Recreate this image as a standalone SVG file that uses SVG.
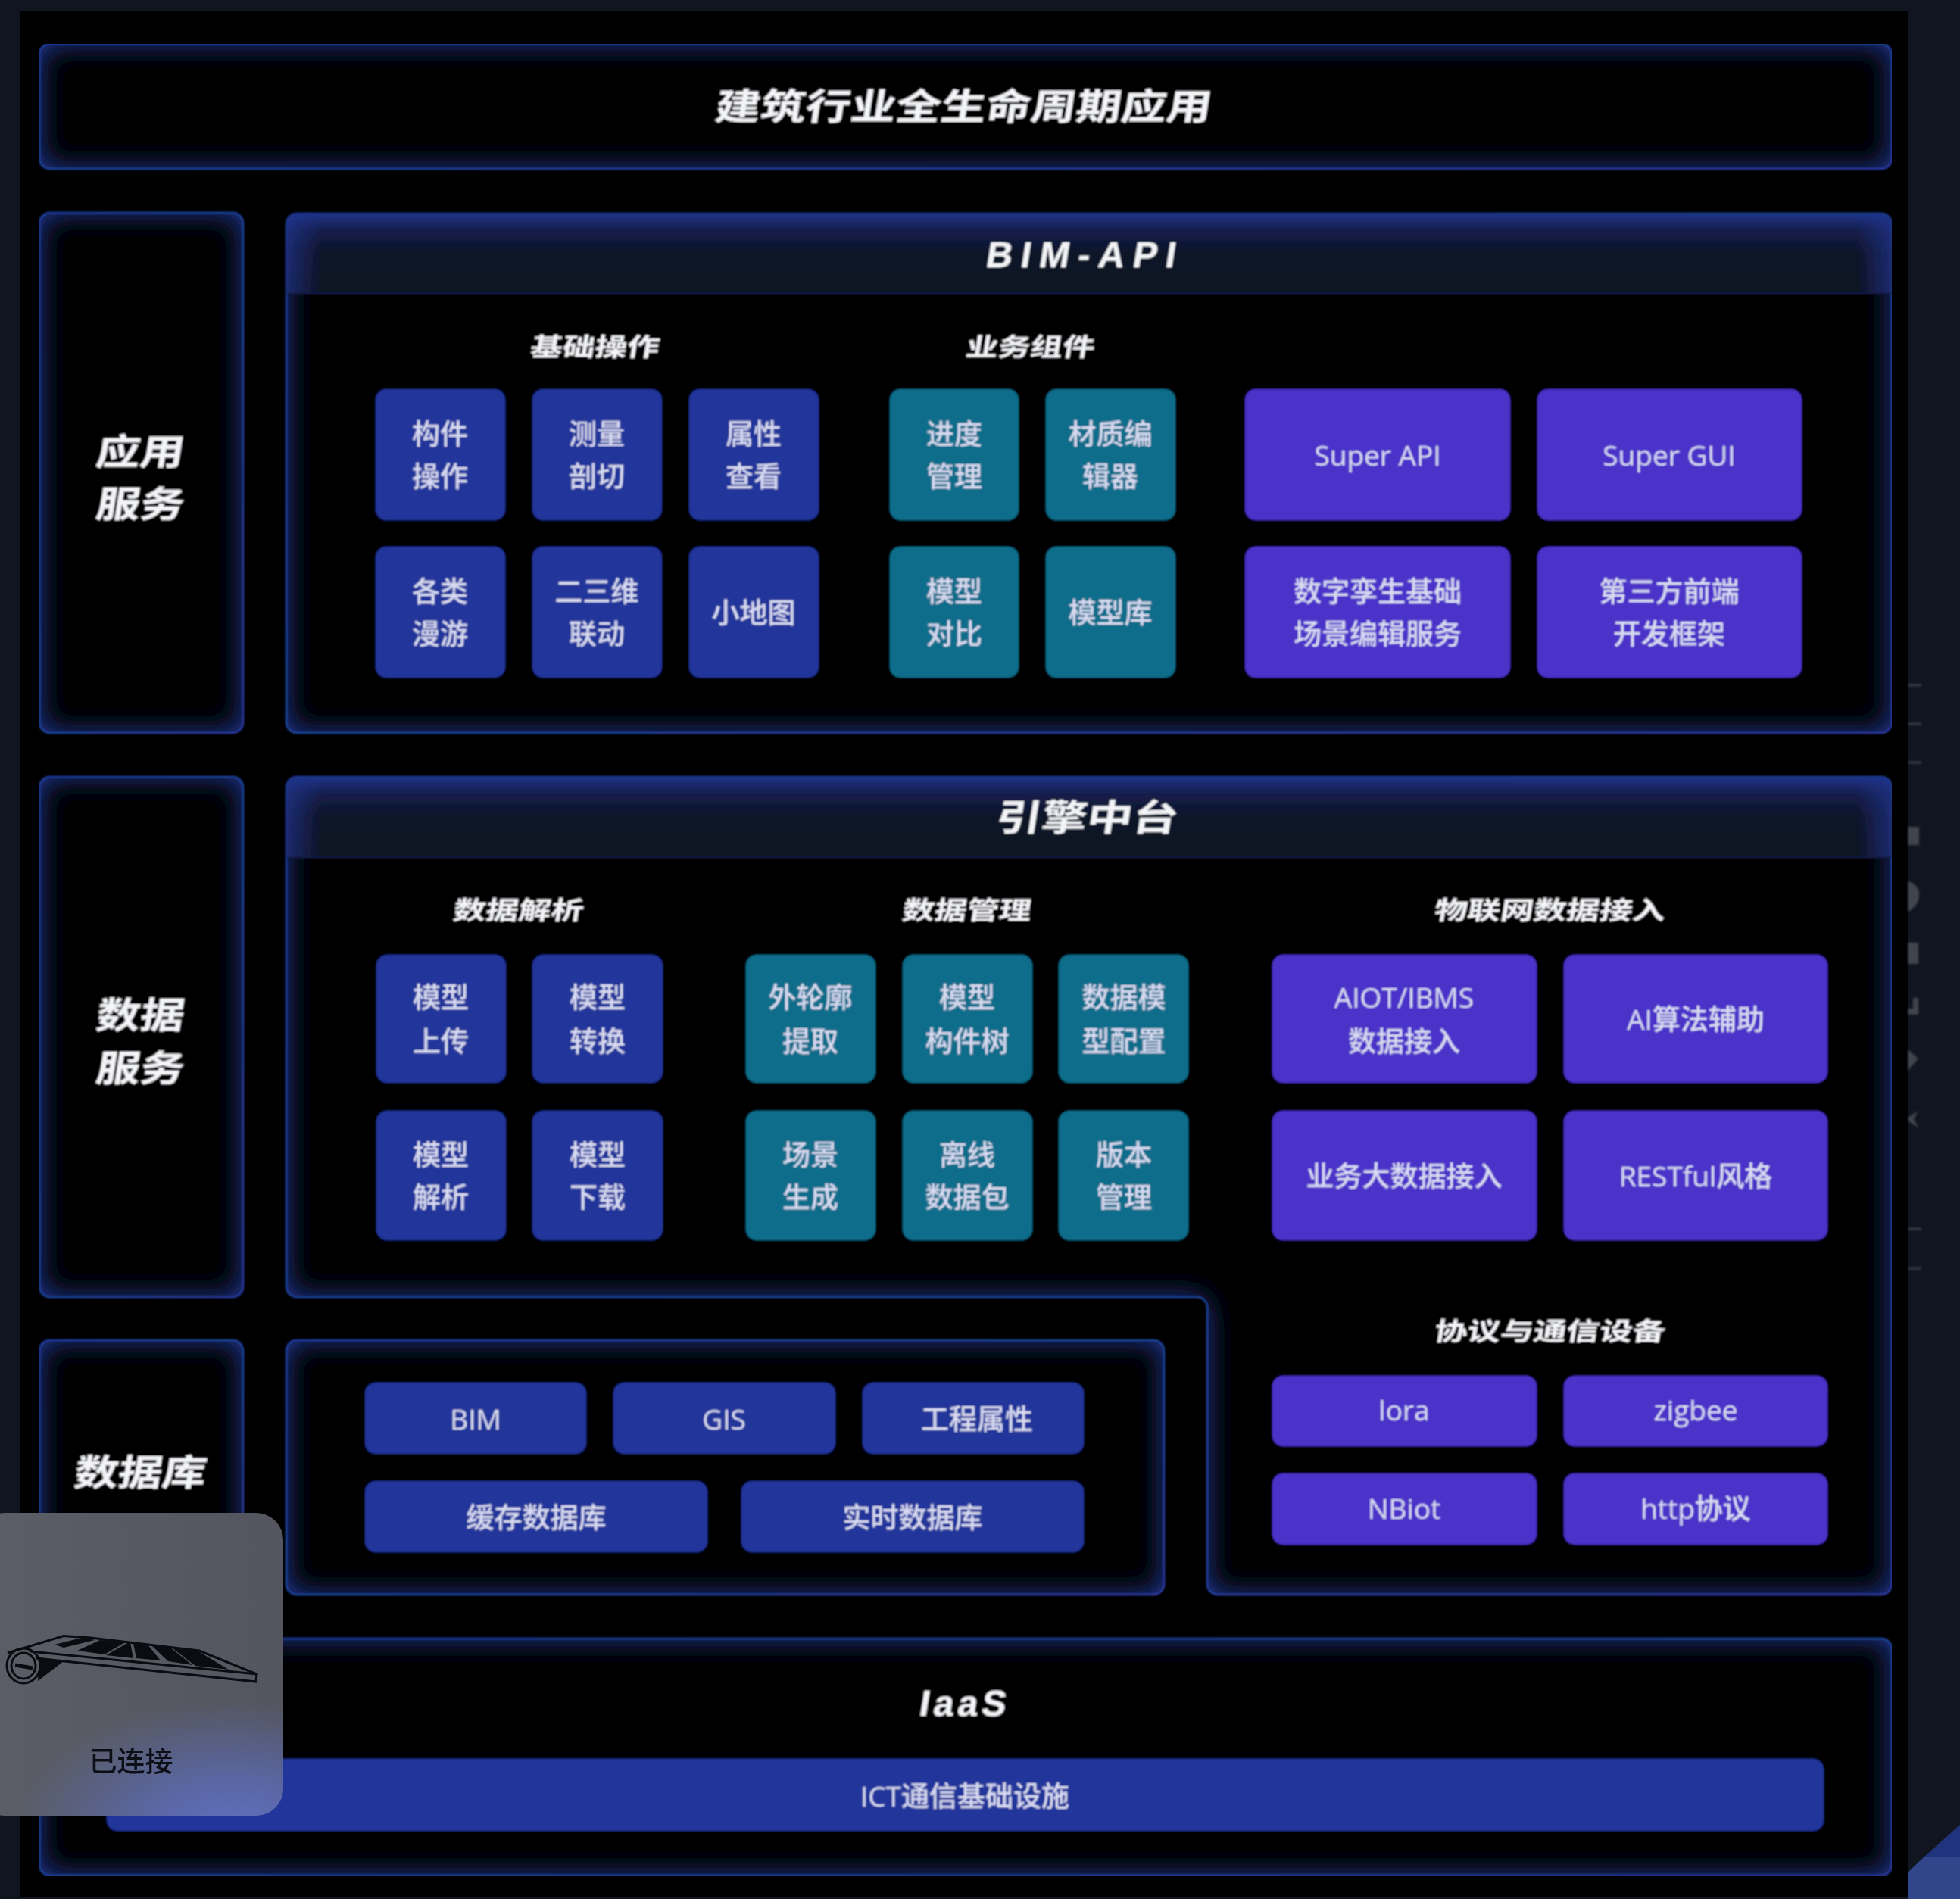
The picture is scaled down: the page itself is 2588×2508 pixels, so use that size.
<svg xmlns="http://www.w3.org/2000/svg" width="2588" height="2508" viewBox="0 0 2588 2508">
<style>
text{font-family:"Open Sans","Noto Sans CJK SC",sans-serif;text-anchor:middle;dominant-baseline:central}
.b{fill:#20369a}.t{fill:#106d8a}.p{fill:#4b32c9}
.l{font-size:37px;font-weight:500;fill:#d9dcf2;transform:translateY(-1px)}
.h{font-weight:700;fill:#f4f5f8;transform-box:fill-box;transform-origin:center;transform:translateY(-1px) skewX(-9deg)}
.s{font-size:33px}.m{font-size:48px}
.lat{font-family:"Liberation Sans",sans-serif}
.panel{fill:#000;stroke:url(#edge);stroke-width:2.500;filter:url(#glow)}
.tick{stroke:#4a4e58;stroke-width:2}
.ico{fill:#4a4d55;opacity:.85}
.k{fill:none;stroke:#0b0c12;stroke-width:3}
</style>
<defs>
<linearGradient id="edge" x1="0" y1="0" x2="1" y2="1"><stop offset="0" stop-color="#17398f"/><stop offset=".5" stop-color="#154a8c"/><stop offset="1" stop-color="#33309c"/></linearGradient>
<linearGradient id="head" x1="0" y1="0" x2="0" y2="1"><stop offset="0" stop-color="#20338a"/><stop offset=".22" stop-color="#141e4a"/><stop offset=".5" stop-color="#0e1428"/><stop offset="1" stop-color="#0d1220"/></linearGradient>
<linearGradient id="sides" x1="0" y1="0" x2="1" y2="0"><stop offset="0" stop-color="#20338a" stop-opacity=".75"/><stop offset=".022" stop-color="#20338a" stop-opacity="0"/><stop offset=".978" stop-color="#20338a" stop-opacity="0"/><stop offset="1" stop-color="#20338a" stop-opacity=".75"/></linearGradient>
<linearGradient id="pop" x1="0" y1="0" x2="1" y2="0"><stop offset="0" stop-color="#5b5e67"/><stop offset="1" stop-color="#54555e"/></linearGradient>
<radialGradient id="popb" gradientUnits="userSpaceOnUse" cx="310" cy="2420" r="290" gradientTransform="translate(0 968) scale(1 .6)"><stop offset="0" stop-color="#5f70c0"/><stop offset=".35" stop-color="#5b6bb5" stop-opacity=".85"/><stop offset="1" stop-color="#5b6bb5" stop-opacity="0"/></radialGradient>
<filter id="glow" x="-30%" y="-40%" width="160%" height="180%" color-interpolation-filters="sRGB">
<feComponentTransfer in="SourceAlpha" result="inv"><feFuncA type="table" tableValues="1 0"/></feComponentTransfer>
<feGaussianBlur in="inv" stdDeviation="19" result="bl"/>
<feFlood flood-color="#2440a6"/>
<feComposite operator="in" in2="bl"/>
<feComposite operator="in" in2="SourceAlpha" result="g"/>
<feMerge><feMergeNode in="SourceGraphic"/><feMergeNode in="g"/></feMerge>
</filter>
<filter id="soft" x="0" y="0" width="100%" height="100%"><feGaussianBlur stdDeviation="0.9"/></filter>
<filter id="soft2" x="-5%" y="-5%" width="110%" height="110%"><feGaussianBlur stdDeviation="1.500"/></filter>
</defs>
<rect width="2588" height="2508" fill="#11151f"/>
<rect x="27" y="14" width="2492" height="2492" fill="#000"/>
<g id="corner"><polygon points="2541,2452 2588,2410 2588,2452" fill="#20347e"/><polygon points="2519,2473 2541,2452 2588,2452 2588,2508 2519,2508" fill="#30458a"/></g>
<g id="sidebar" filter="url(#soft2)">
<line class="tick" x1="2519" y1="905" x2="2537" y2="905"/><line class="tick" x1="2519" y1="956" x2="2537" y2="956"/><line class="tick" x1="2519" y1="1007" x2="2537" y2="1007"/><line class="tick" x1="2519" y1="1623" x2="2537" y2="1623"/><line class="tick" x1="2519" y1="1675" x2="2537" y2="1675"/>
<path class="ico" d="M2519 1092h15v24h-15z"/><path class="ico" d="M2519 1164q16 4 15 20q-2 14-15 20z"/><path class="ico" d="M2519 1245h14v28h-14z" opacity=".7"/><path class="ico" d="M2526 1318h7v22h-14v-8h7z"/><path class="ico" d="M2519 1386l14 12l-14 16z"/><path class="ico" d="M2519 1476l14-9l-6 11l6 12l-14-10z"/>
</g>
<g filter="url(#soft)">
<g id="top"><rect class="panel" x="52" y="58" width="2446" height="165" rx="14"/><text class="h m" x="1273" y="140" textLength="655" lengthAdjust="spacingAndGlyphs">建筑行业全生命周期应用</text></g>
<g id="app-side"><rect class="panel" x="52" y="281" width="269" height="687" rx="14"/><text class="h m" x="186" y="596" textLength="116" lengthAdjust="spacingAndGlyphs">应用</text><text class="h m" x="186" y="665" textLength="116" lengthAdjust="spacingAndGlyphs">服务</text></g>
<g id="bim-api"><rect class="panel" x="378" y="282" width="2120" height="686" rx="14"/>
<path d="M378 387V296a14 14 0 0 1 14-14H2484a14 14 0 0 1 14 14V387Z" fill="url(#head)"/><path d="M378 387V296a14 14 0 0 1 14-14H2484a14 14 0 0 1 14 14V387Z" fill="url(#sides)"/><line x1="378" y1="387" x2="2498" y2="387" stroke="#141f4a" stroke-width="2"/>
<text class="h m lat" x="1428" y="337" textLength="250" lengthAdjust="spacing">BIM-API</text>
<text class="h s" x="786" y="459" textLength="170" lengthAdjust="spacingAndGlyphs">基础操作</text><text class="h s" x="1361" y="459" textLength="170" lengthAdjust="spacingAndGlyphs">业务组件</text></g>
<g id="n-goujian"><rect class="b" x="496" y="514" width="171" height="173" rx="14"/><text class="l" x="581" y="573">构件</text><text class="l" x="581" y="629">操作</text></g>
<g id="n-celiang"><rect class="b" x="703" y="514" width="171" height="173" rx="14"/><text class="l" x="788" y="573">测量</text><text class="l" x="788" y="629">剖切</text></g>
<g id="n-shuxing"><rect class="b" x="910" y="514" width="171" height="173" rx="14"/><text class="l" x="995" y="573">属性</text><text class="l" x="995" y="629">查看</text></g>
<g id="n-manyou"><rect class="b" x="496" y="722" width="171" height="173" rx="14"/><text class="l" x="581" y="781">各类</text><text class="l" x="581" y="837">漫游</text></g>
<g id="n-ersan"><rect class="b" x="703" y="722" width="171" height="173" rx="14"/><text class="l" x="788" y="781">二三维</text><text class="l" x="788" y="837">联动</text></g>
<g id="n-xiaoditu"><rect class="b" x="910" y="722" width="171" height="173" rx="14"/><text class="l" x="995" y="809">小地图</text></g>
<g id="n-jindu"><rect class="t" x="1175" y="514" width="170" height="173" rx="14"/><text class="l" x="1260" y="573">进度</text><text class="l" x="1260" y="629">管理</text></g>
<g id="n-caizhi"><rect class="t" x="1381" y="514" width="171" height="173" rx="14"/><text class="l" x="1466" y="573">材质编</text><text class="l" x="1466" y="629">辑器</text></g>
<g id="n-duibi"><rect class="t" x="1175" y="722" width="170" height="173" rx="14"/><text class="l" x="1260" y="781">模型</text><text class="l" x="1260" y="837">对比</text></g>
<g id="n-moxingku"><rect class="t" x="1381" y="722" width="171" height="173" rx="14"/><text class="l" x="1466" y="809">模型库</text></g>
<g id="n-superapi"><rect class="p" x="1644" y="514" width="350" height="173" rx="14"/><text class="l" x="1819" y="601">Super API</text></g>
<g id="n-supergui"><rect class="p" x="2030" y="514" width="349" height="173" rx="14"/><text class="l" x="2204" y="601">Super GUI</text></g>
<g id="n-luansheng"><rect class="p" x="1644" y="722" width="350" height="173" rx="14"/><text class="l" x="1819" y="781">数字孪生基础</text><text class="l" x="1819" y="837">场景编辑服务</text></g>
<g id="n-disanfang"><rect class="p" x="2030" y="722" width="349" height="173" rx="14"/><text class="l" x="2204" y="781">第三方前端</text><text class="l" x="2204" y="837">开发框架</text></g>
<g id="data-side"><rect class="panel" x="52" y="1026" width="269" height="687" rx="14"/><text class="h m" x="186" y="1340" textLength="116" lengthAdjust="spacingAndGlyphs">数据</text><text class="h m" x="186" y="1410" textLength="116" lengthAdjust="spacingAndGlyphs">服务</text></g>
<g id="engine"><path class="panel" d="M392 1026H2484a14 14 0 0 1 14 14V2092a14 14 0 0 1-14 14H1608a14 14 0 0 1-14-14V1727a14 14 0 0 0-14-14H392a14 14 0 0 1-14-14V1040a14 14 0 0 1 14-14Z"/>
<path d="M378 1132V1040a14 14 0 0 1 14-14H2484a14 14 0 0 1 14 14V1132Z" fill="url(#head)"/><path d="M378 1132V1040a14 14 0 0 1 14-14H2484a14 14 0 0 1 14 14V1132Z" fill="url(#sides)"/><line x1="378" y1="1132" x2="2498" y2="1132" stroke="#141f4a" stroke-width="2"/>
<text class="h m" x="1436" y="1079" textLength="240" lengthAdjust="spacingAndGlyphs">引擎中台</text>
<text class="h s" x="685" y="1203" textLength="172" lengthAdjust="spacingAndGlyphs">数据解析</text><text class="h s" x="1277" y="1203" textLength="170" lengthAdjust="spacingAndGlyphs">数据管理</text><text class="h s" x="2047" y="1203" textLength="305" lengthAdjust="spacingAndGlyphs">物联网数据接入</text><text class="h s" x="2047" y="1759" textLength="305" lengthAdjust="spacingAndGlyphs">协议与通信设备</text></g>
<g id="n-shangchuan"><rect class="b" x="497" y="1261" width="171" height="169" rx="14"/><text class="l" x="582" y="1317">模型</text><text class="l" x="582" y="1375">上传</text></g>
<g id="n-zhuanhuan"><rect class="b" x="703" y="1261" width="172" height="169" rx="14"/><text class="l" x="789" y="1317">模型</text><text class="l" x="789" y="1375">转换</text></g>
<g id="n-jiexi"><rect class="b" x="497" y="1467" width="171" height="171" rx="14"/><text class="l" x="582" y="1525">模型</text><text class="l" x="582" y="1581">解析</text></g>
<g id="n-xiazai"><rect class="b" x="703" y="1467" width="172" height="171" rx="14"/><text class="l" x="789" y="1525">模型</text><text class="l" x="789" y="1581">下载</text></g>
<g id="n-wailunkuo"><rect class="t" x="985" y="1261" width="171" height="169" rx="14"/><text class="l" x="1070" y="1317">外轮廓</text><text class="l" x="1070" y="1375">提取</text></g>
<g id="n-goujianshu"><rect class="t" x="1192" y="1261" width="171" height="169" rx="14"/><text class="l" x="1277" y="1317">模型</text><text class="l" x="1277" y="1375">构件树</text></g>
<g id="n-peizhi"><rect class="t" x="1398" y="1261" width="171" height="169" rx="14"/><text class="l" x="1484" y="1317">数据模</text><text class="l" x="1484" y="1375">型配置</text></g>
<g id="n-changjing"><rect class="t" x="985" y="1467" width="171" height="171" rx="14"/><text class="l" x="1070" y="1525">场景</text><text class="l" x="1070" y="1581">生成</text></g>
<g id="n-lixian"><rect class="t" x="1192" y="1467" width="171" height="171" rx="14"/><text class="l" x="1277" y="1525">离线</text><text class="l" x="1277" y="1581">数据包</text></g>
<g id="n-banben"><rect class="t" x="1398" y="1467" width="171" height="171" rx="14"/><text class="l" x="1484" y="1525">版本</text><text class="l" x="1484" y="1581">管理</text></g>
<g id="n-aiot"><rect class="p" x="1680" y="1261" width="349" height="169" rx="14"/><text class="l" x="1854" y="1317">AIOT/IBMS</text><text class="l" x="1854" y="1375">数据接入</text></g>
<g id="n-ai"><rect class="p" x="2065" y="1261" width="348" height="169" rx="14"/><text class="l" x="2239" y="1346">AI算法辅助</text></g>
<g id="n-yewu"><rect class="p" x="1680" y="1467" width="349" height="171" rx="14"/><text class="l" x="1854" y="1553">业务大数据接入</text></g>
<g id="n-rest"><rect class="p" x="2065" y="1467" width="348" height="171" rx="14"/><text class="l" x="2239" y="1553">RESTful风格</text></g>
<g id="n-lora"><rect class="p" x="1680" y="1817" width="349" height="93" rx="14"/><text class="l" x="1854" y="1862">lora</text></g>
<g id="n-zigbee"><rect class="p" x="2065" y="1817" width="348" height="93" rx="14"/><text class="l" x="2239" y="1862">zigbee</text></g>
<g id="n-nbiot"><rect class="p" x="1680" y="1946" width="349" height="94" rx="14"/><text class="l" x="1854" y="1992">NBiot</text></g>
<g id="n-http"><rect class="p" x="2065" y="1946" width="348" height="94" rx="14"/><text class="l" x="2239" y="1992">http协议</text></g>
<g id="db-side"><rect class="panel" x="52" y="1770" width="269" height="336" rx="14"/><text class="h m" x="186" y="1944" textLength="174" lengthAdjust="spacingAndGlyphs">数据库</text></g>
<g id="db"><rect class="panel" x="378" y="1770" width="1159" height="336" rx="14"/></g>
<g id="n-bim"><rect class="b" x="482" y="1826" width="292" height="94" rx="14"/><text class="l" x="628" y="1874">BIM</text></g>
<g id="n-gis"><rect class="b" x="810" y="1826" width="293" height="94" rx="14"/><text class="l" x="956" y="1874">GIS</text></g>
<g id="n-gongcheng"><rect class="b" x="1139" y="1826" width="292" height="94" rx="14"/><text class="l" x="1290" y="1874">工程属性</text></g>
<g id="n-huancun"><rect class="b" x="482" y="1956" width="452" height="94" rx="14"/><text class="l" x="708" y="2004">缓存数据库</text></g>
<g id="n-shishi"><rect class="b" x="979" y="1956" width="452" height="94" rx="14"/><text class="l" x="1205" y="2004">实时数据库</text></g>
<g id="iaas"><rect class="panel" x="52" y="2164" width="2446" height="313" rx="14"/><text class="h m lat" x="1272" y="2250" textLength="114" lengthAdjust="spacing">IaaS</text></g>
<g id="n-ict"><rect class="b" x="141" y="2323" width="2267" height="95" rx="14"/><text class="l" x="1274" y="2372">ICT通信基础设施</text></g>
</g>
<g id="popup">
<rect x="-30" y="1998" width="404" height="400" rx="36" fill="url(#pop)"/>
<rect x="-30" y="1998" width="404" height="400" rx="36" fill="url(#popb)"/>
<path d="M10 2183L84 2160.500L120 2163L263 2180L339 2211L338 2221L48 2190" fill="none" stroke="#0b0c12" stroke-width="3"/>
<path class="k" d="M40 2181L339 2211"/>
<path d="M72 2172L112 2162L125 2166L84 2176ZM102 2180L132 2166L165 2169L138 2185ZM140 2186L170 2169L172 2169L176 2190ZM176 2170L195 2172L212 2193L180 2190ZM200 2173L225 2176L254 2199L222 2194ZM228 2177L262 2181L302 2205L258 2200Z" fill="#0b0c12"/>
<ellipse class="k" cx="31" cy="2200" rx="22" ry="23"/><ellipse class="k" cx="31" cy="2200" rx="16" ry="17"/>
<line x1="20" y1="2199" x2="43" y2="2203" stroke="#0b0c12" stroke-width="5"/>
<path d="M52 2192L84 2194L50 2220Z" fill="#0b0c12"/>
<text x="173" y="2325" style="font-size:37px;font-weight:500;fill:#0d0f16">已连接</text>
</g>
</svg>
